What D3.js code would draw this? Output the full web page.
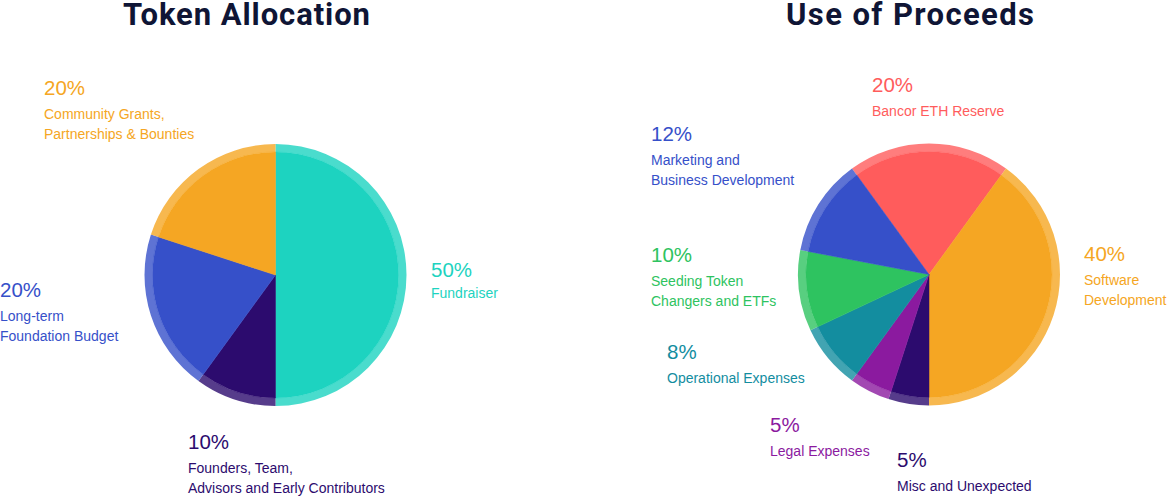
<!DOCTYPE html>
<html>
<head>
<meta charset="utf-8">
<script src="https://cdn.jsdelivr.net/npm/d3@7/dist/d3.min.js"></script>
<style>
  html, body { margin: 0; padding: 0; background: #ffffff; }
  svg { display: block; }
  .title { font-family: Roboto, "DejaVu Sans", sans-serif; font-weight: 700; fill: #0f1535; }
  .pct { font-family: "Liberation Sans", Arial, sans-serif; font-size: 20.5px; }
  .lbl { font-family: "Liberation Sans", Arial, sans-serif; font-size: 14px; }
</style>
</head>
<body>
<svg id="chart" width="1167" height="496"></svg>
<script>
// ---- Data ----
const leftTitle = "Token Allocation";
const leftCategories = ["Fundraiser", "Founders, Team, Advisors and Early Contributors", "Long-term Foundation Budget", "Community Grants, Partnerships & Bounties"];
const leftValues = [50, 10, 20, 20];
const leftLabelLines = [["Fundraiser"], ["Founders, Team,", "Advisors and Early Contributors"], ["Long-term", "Foundation Budget"], ["Community Grants,", "Partnerships & Bounties"]];
const leftColors = ["#1dd3c0", "#2c0b6e", "#3650c9", "#f5a623"];

const rightTitle = "Use of Proceeds";
const rightCategories = ["Bancor ETH Reserve", "Software Development", "Misc and Unexpected", "Legal Expenses", "Operational Expenses", "Seeding Token Changers and ETFs", "Marketing and Business Development"];
const rightValues = [20, 40, 5, 5, 8, 10, 12];
const rightLabelLines = [["Bancor ETH Reserve"], ["Software", "Development"], ["Misc and Unexpected"], ["Legal Expenses"], ["Operational Expenses"], ["Seeding Token", "Changers and ETFs"], ["Marketing and", "Business Development"]];
const rightColors = ["#ff5c5c", "#f5a623", "#2c0b6e", "#8b1a9f", "#138d9f", "#2ec360", "#3650c9"];

// ---- Layout ----
const svg = d3.select("#chart");
const R = 131, RIN = 123;

function drawPie(cfg) {
  const pie = d3.pie().sort(null).value(d => d)
    .startAngle(cfg.start).endAngle(cfg.start + 2 * Math.PI);
  const arcs = pie(cfg.values);
  const g = svg.append("g").attr("transform", `translate(${cfg.cx},${cfg.cy})`);
  const inner = d3.arc().innerRadius(0).outerRadius(RIN);
  const rim = d3.arc().innerRadius(RIN).outerRadius(R);
  g.selectAll("path.rim").data(arcs).join("path")
    .attr("class", "rim").attr("d", rim)
    .attr("fill", (d, i) => cfg.colors[i]).attr("fill-opacity", 0.8);
  g.selectAll("path.core").data(arcs).join("path")
    .attr("class", "core").attr("d", inner)
    .attr("fill", (d, i) => cfg.colors[i])
    .attr("stroke", (d, i) => cfg.colors[i]).attr("stroke-width", 0.5);

  svg.append("text").attr("class", "title")
    .attr("x", cfg.titleX).attr("y", 25)
    .attr("text-anchor", "middle").attr("font-size", 31)
    .attr("textLength", cfg.titleW).attr("lengthAdjust", "spacing")
    .text(cfg.title);

  cfg.values.forEach((v, i) => {
    const p = cfg.labelPos[i];
    const off = p[2] || 23.5;
    const t = svg.append("g").attr("fill", cfg.colors[i]);
    t.append("text").attr("class", "pct").attr("x", p[0]).attr("y", p[1]).text(v + "%");
    cfg.lines[i].forEach((ln, j) => {
      t.append("text").attr("class", "lbl").attr("x", p[0]).attr("y", p[1] + off + j * 20).text(ln);
    });
  });
}

drawPie({
  cx: 275.5, cy: 275, start: 0,
  values: leftValues, colors: leftColors, lines: leftLabelLines,
  title: leftTitle, titleX: 246.5, titleW: 247,
  labelPos: [[431, 277, 20.5], [188, 449], [0, 297], [44, 95]]
});

drawPie({
  cx: 929, cy: 274.5, start: -0.2 * Math.PI,
  values: rightValues, colors: rightColors, lines: rightLabelLines,
  title: rightTitle, titleX: 910, titleW: 248,
  labelPos: [[872, 92], [1084, 261], [897, 467], [770, 432], [667, 359], [651, 262], [651, 141]]
});
</script>
</body>
</html>
